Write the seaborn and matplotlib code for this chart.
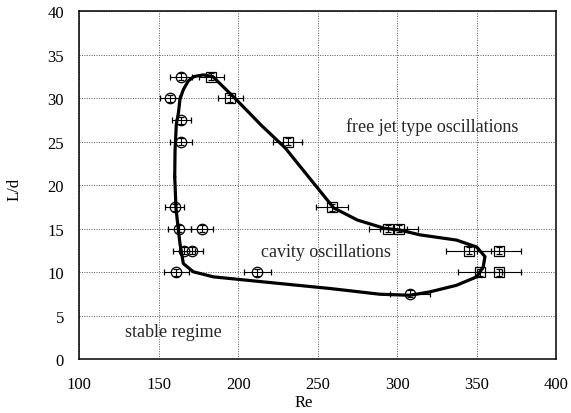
import matplotlib
matplotlib.use("Agg")
import matplotlib.pyplot as plt
import seaborn as sns
import pandas as pd

# circle data (with horizontal error)
circ_re = [164, 157, 164, 164, 160, 163, 177, 166, 171, 161, 212, 308]
circ_ld = [32.5, 30, 27.5, 25, 17.5, 15, 15, 12.5, 12.5, 10, 10, 7.5]
circ_err = [7, 6, 6, 7, 6, 7, 7, 7, 7, 8, 8.5, 12.5]

# square data
sq_re = [183, 195, 231, 259, 294, 301, 345, 364, 352, 364]
sq_ld = [32.5, 30, 25, 17.5, 15, 15, 12.5, 12.5, 10, 10]
sq_err = [8, 8, 9, 10, 12, 12, 14, 14, 14, 14]

# boundary of the oscillation region (closed loop)
loop_re = [160, 160.2, 161, 162.3, 163.3, 165.4, 168.5, 172, 178, 184, 189,
           198.5, 214.5, 229.5, 248.5, 260, 275, 292, 301.7, 314.3, 337.3,
           350, 355.2, 354.1, 350, 337.3, 320.5, 307.9, 289.1, 257.7, 226.2,
           184.3, 171.7, 165.4, 163.3, 162.3, 160.8, 160]
loop_ld = [21, 24, 27, 28.3, 29.9, 31, 32, 32.5, 32.7, 32.5, 31.6,
           29.9, 26.9, 24.3, 20, 17.4, 16, 15.05, 14.85, 14.3, 13.7,
           12.9, 11.8, 10.6, 9.47, 8.5, 7.74, 7.35, 7.47, 8.13, 8.7,
           9.47, 10.05, 11, 13.3, 14.85, 17.35, 21]

sns.set_style("whitegrid")
plt.rcParams["font.family"] = ["Liberation Serif", "DejaVu Serif"]

fig = plt.figure(figsize=(5.71, 4.14), dpi=100)
ax = fig.add_axes([0.139, 0.13, 0.835, 0.84])

loop_df = pd.DataFrame({"Re": loop_re, "Ld": loop_ld})
sns.lineplot(data=loop_df, x="Re", y="Ld", sort=False, estimator=None,
             color="black", linewidth=2.3, ax=ax, zorder=3)

ax.errorbar(circ_re, circ_ld, xerr=circ_err, yerr=0.4, fmt="o", ms=7.5,
            mfc="none", mec="black", mew=0.9, ecolor="black", elinewidth=0.8,
            capsize=2.5, capthick=0.8, zorder=4)
ax.errorbar(sq_re, sq_ld, xerr=sq_err, yerr=0.4, fmt="s", ms=7.5,
            mfc="none", mec="black", mew=0.9, ecolor="black", elinewidth=0.8,
            capsize=2.5, capthick=0.8, zorder=4)

ax.set_xlim(100, 400)
ax.set_ylim(0, 40)
ax.set_xticks(range(100, 401, 50))
ax.set_yticks(range(0, 41, 5))
ax.grid(True, color="#555555", linestyle=(0, (1, 1.5)), linewidth=0.7)
for s in ax.spines.values():
    s.set_color("black")
    s.set_linewidth(1.1)
ax.tick_params(length=0, labelsize=12, colors="black")
ax.tick_params(axis="y", pad=11)
ax.tick_params(axis="x", pad=12)

ax.set_xlabel("Re", fontsize=12, color="black")
ax.set_ylabel("L/d", fontsize=12, color="black")
ax.xaxis.set_label_coords(0.47, -0.1)
ax.yaxis.set_label_coords(-0.12, 0.49)

ax.text(322, 26.8, "free jet type oscillations", fontsize=13, va="center", ha="center")
ax.text(255, 12.4, "cavity oscillations", fontsize=13, va="center", ha="center")
ax.text(159, 3.2, "stable regime", fontsize=13, va="center", ha="center")

fig.savefig("out.png", dpi=100)
